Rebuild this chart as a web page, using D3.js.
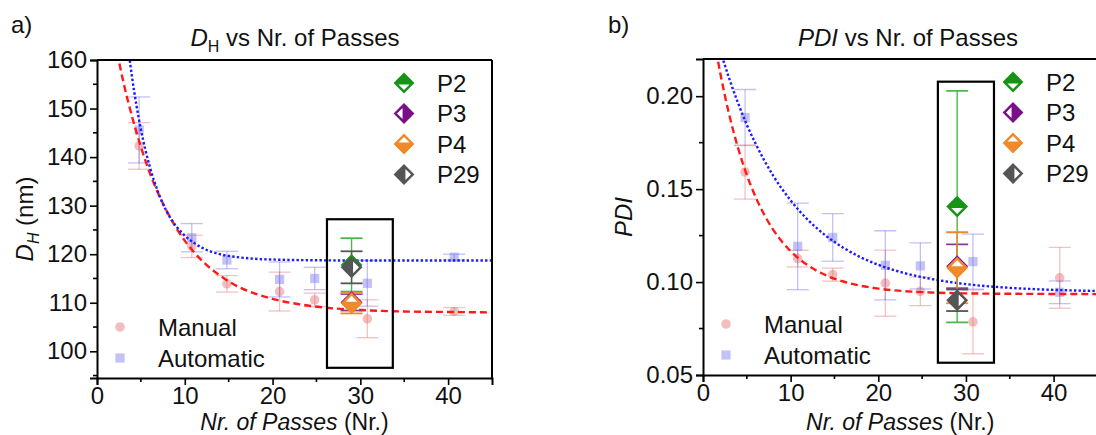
<!DOCTYPE html>
<html><head><meta charset="utf-8">
<script src="https://cdn.jsdelivr.net/npm/d3@7"></script>
<style>
body{margin:0;background:#fff;}
svg{display:block;font-family:"Liberation Sans",Arial,sans-serif;}
</style></head><body>
<svg id="c" width="1096" height="435"></svg>
<script>
// ---------- data ----------
const passes = [4.8, 10.8, 14.8, 20.8, 24.8, 30.8, 40.7];
const dhManual = [142.3, 121.6, 113.9, 112.3, 110.6, 106.7, 108.2];
const dhManualErr = [4.8, 2.3, 1.7, 4.0, 1.4, 3.9, 0.8];
const dhAuto = [145.6, 123.4, 118.8, 114.8, 115.0, 114.0, 119.4];
const dhAutoErr = [6.8, 2.9, 1.8, 3.6, 2.3, 4.7, 0.6];

const pdiManual = [0.1592, 0.1126, 0.1040, 0.0994, 0.0950, 0.0786, 0.1023];
const pdiManualErr = [0.0146, 0.0045, 0.0035, 0.0178, 0.0077, 0.0172, 0.0164];
const pdiAuto = [0.1885, 0.1192, 0.1240, 0.1090, 0.1087, 0.1110, 0.0945];
const pdiAutoErr = [0.0151, 0.0233, 0.0128, 0.0186, 0.0124, 0.0148, 0.0061];

const pLabels = ["P2", "P3", "P4", "P29"];
const pPass = [29, 29, 29, 29];
const dhP = [117.8, 110.1, 109.9, 117.3];
const dhPErr = [5.5, 1.7, 2.1, 3.3];
const pdiP = [0.1406, 0.1085, 0.1077, 0.0902];
const pdiPErr = [0.0623, 0.0118, 0.0191, 0.0058];

// fitted curves
const fitDhManualX = [2.3, 3, 4, 5, 6, 7, 8, 9, 10, 12, 14, 16, 18, 20, 23, 26, 30, 35, 40, 45];
const fitDhManualY = [161.5, 155.5, 148.3, 142.1, 136.8, 132.4, 128.7, 125.5, 122.8, 118.6, 115.6, 113.4, 111.9, 110.8, 109.7, 109.0, 108.5, 108.2, 108.1, 108.0];
const fitDhAutoX = [3.6, 4, 4.5, 5, 5.5, 6, 7, 8, 9, 10, 11, 12, 14, 16, 18, 20, 25, 30, 45];
const fitDhAutoY = [161.8, 156.4, 150.6, 145.7, 141.6, 138.1, 132.6, 128.6, 125.8, 123.8, 122.4, 121.3, 120.0, 119.4, 119.05, 118.9, 118.75, 118.7, 118.7];
const fitPdiManualX = [1.5, 2, 3, 4, 5, 6, 7, 8, 9, 10, 12, 14, 16, 18, 20, 23, 26, 30, 35, 40, 45];
const fitPdiManualY = [0.2244, 0.2117, 0.1899, 0.1721, 0.1576, 0.1458, 0.1361, 0.1282, 0.1218, 0.1166, 0.1089, 0.1037, 0.1003, 0.0980, 0.0965, 0.0951, 0.0944, 0.0939, 0.0937, 0.0936, 0.0935];
const fitPdiAutoX = [2, 3, 4, 5, 6, 7, 8, 10, 12, 14, 16, 18, 20, 23, 26, 30, 35, 40, 45];
const fitPdiAutoY = [0.2240, 0.2094, 0.1963, 0.1846, 0.1745, 0.1654, 0.1573, 0.1439, 0.1333, 0.1250, 0.1185, 0.1133, 0.1093, 0.1048, 0.1017, 0.0989, 0.0969, 0.0958, 0.0952];

const dhTicks = [100, 110, 120, 130, 140, 150, 160];
const dhMinor = [95, 105, 115, 125, 135, 145, 155];
const pdiTicks = [0.05, 0.10, 0.15, 0.20];
const pdiMinor = [0.075, 0.125, 0.175];
const xTicks = [0, 10, 20, 30, 40];
const xMinor = [5, 15, 25, 35];

// ---------- style ----------
const FS = 24;
const manualFill = "rgba(230,110,110,0.45)";
const manualErrCol = "rgba(230,100,100,0.40)";
const autoFill = "rgba(120,120,240,0.45)";
const autoErrCol = "rgba(100,100,240,0.40)";
const pColors = ["#169416", "#7a0f8a", "#f0892a", "#555555"];
const pErrColors = ["#4cb84c", "#8a3a9a", "#f0892a", "#555555"];
const pWhite = ["bottom", "left", "top", "right"];
const drawOrder = [1, 0, 2, 3];

const svg = d3.select("#c");

function halfDiamond(g, cx, cy, s, color, white) {
  const path = p => "M" + p.map(q => q.join(",")).join("L") + "Z";
  const P = {t:[cx,cy-s], r:[cx+s,cy], b:[cx,cy+s], l:[cx-s,cy]};
  g.append("path").attr("d", path([P.t, P.r, P.b, P.l])).attr("fill", color)
    .attr("stroke", color).attr("stroke-width", 2).attr("stroke-linejoin", "miter");
  const k = s * 0.62, off = s * 0.16;
  let tri;
  if (white === "bottom") tri = [[cx - k, cy + off], [cx + k, cy + off], [cx, cy + off + k]];
  if (white === "top") tri = [[cx - k, cy - off], [cx + k, cy - off], [cx, cy - off - k]];
  if (white === "left") tri = [[cx - off, cy - k], [cx - off, cy + k], [cx - off - k, cy]];
  if (white === "right") tri = [[cx + off, cy - k], [cx + off, cy + k], [cx + off + k, cy]];
  g.append("path").attr("d", path(tri)).attr("fill", "#fff");
}

function panel(cfg) {
  const x = d3.scaleLinear().domain([0, 45]).range([cfg.x0, cfg.x1]);
  const y = d3.scaleLinear().domain(cfg.yDomain).range([cfg.yb, cfg.yt]);
  const g = svg.append("g");
  const clipId = "clip" + cfg.id;
  svg.append("defs").append("clipPath").attr("id", clipId)
    .append("rect").attr("x", cfg.x0).attr("y", cfg.yt).attr("width", cfg.x1 - cfg.x0).attr("height", cfg.yb - cfg.yt);
  const plot = g.append("g").attr("clip-path", `url(#${clipId})`);

  function series(vals, errs, errCol, fill, shape) {
    vals.forEach((v, i) => {
      const cx = x(passes[i]);
      const lo = y(v - errs[i]), hi = y(v + errs[i]);
      plot.append("line").attr("x1", cx).attr("x2", cx).attr("y1", lo).attr("y2", hi).attr("stroke", errCol).attr("stroke-width", 1.3);
      [lo, hi].forEach(yy => plot.append("line").attr("x1", cx - 11).attr("x2", cx + 11).attr("y1", yy).attr("y2", yy).attr("stroke", errCol).attr("stroke-width", 1.3));
    });
    vals.forEach((v, i) => {
      const cx = x(passes[i]), cy = y(v);
      if (shape === "circle") plot.append("circle").attr("cx", cx).attr("cy", cy).attr("r", 4.8).attr("fill", fill);
      else plot.append("rect").attr("x", cx - 4.6).attr("y", cy - 4.6).attr("width", 9.2).attr("height", 9.2).attr("fill", fill);
    });
  }
  series(cfg.manual, cfg.manualErr, manualErrCol, manualFill, "circle");
  series(cfg.auto, cfg.autoErr, autoErrCol, autoFill, "square");

  const line = d3.line().x(d => x(d[0])).y(d => y(d[1])).curve(d3.curveMonotoneX);
  plot.append("path").datum(cfg.fitMX.map((v, i) => [v, cfg.fitMY[i]])).attr("d", line)
    .attr("fill", "none").attr("stroke", "#ff1a1a").attr("stroke-width", 2.4).attr("stroke-dasharray", "7,4");
  plot.append("path").datum(cfg.fitAX.map((v, i) => [v, cfg.fitAY[i]])).attr("d", line)
    .attr("fill", "none").attr("stroke", "#1a1aff").attr("stroke-width", 2.4).attr("stroke-dasharray", "2.4,2.2");

  drawOrder.forEach(i => {
    const cx = x(pPass[i]);
    const lo = y(cfg.pVals[i] - cfg.pErr[i]), hi = y(cfg.pVals[i] + cfg.pErr[i]);
    plot.append("line").attr("x1", cx).attr("x2", cx).attr("y1", lo).attr("y2", hi).attr("stroke", pErrColors[i]).attr("stroke-width", 1.4);
    [lo, hi].forEach(yy => plot.append("line").attr("x1", cx - 11).attr("x2", cx + 11).attr("y1", yy).attr("y2", yy).attr("stroke", pErrColors[i]).attr("stroke-width", 1.8));
  });
  drawOrder.forEach(i => {
    halfDiamond(plot, x(pPass[i]), y(cfg.pVals[i]), 9.5, pColors[i], pWhite[i]);
  });

  g.append("rect").attr("x", x(cfg.box[0])).attr("y", y(cfg.box[3]))
    .attr("width", x(cfg.box[1]) - x(cfg.box[0])).attr("height", y(cfg.box[2]) - y(cfg.box[3]))
    .attr("fill", "none").attr("stroke", "#000").attr("stroke-width", 2.2);

  g.append("line").attr("x1", cfg.x0).attr("x2", cfg.x1).attr("y1", cfg.yt).attr("y2", cfg.yt).attr("stroke", "#000").attr("stroke-width", 2);
  g.append("line").attr("x1", cfg.x1).attr("x2", cfg.x1).attr("y1", cfg.yt).attr("y2", cfg.yb).attr("stroke", "#000").attr("stroke-width", 2);

  const ax = g.append("g").attr("transform", `translate(0,${cfg.yb})`)
    .call(d3.axisBottom(x).tickValues(xTicks).tickSize(7).tickPadding(2).tickFormat(d3.format("d")));
  xMinor.forEach(v => ax.append("line").attr("x1", x(v)).attr("x2", x(v)).attr("y1", 0).attr("y2", 4).attr("stroke", "#000").attr("stroke-width", 1.6));
  const ay = g.append("g").attr("transform", `translate(${cfg.x0},0)`)
    .call(d3.axisLeft(y).tickValues(cfg.yTicks).tickSize(7).tickPadding(3).tickFormat(cfg.yFmt));
  cfg.yMinor.forEach(v => ay.append("line").attr("x1", 0).attr("x2", -4).attr("y1", y(v)).attr("y2", y(v)).attr("stroke", "#000").attr("stroke-width", 1.6));
  [ax, ay].forEach(a => {
    a.select(".domain").attr("stroke-width", 2).attr("stroke", "#000");
    a.selectAll(".tick line").attr("stroke-width", 1.6).attr("stroke", "#000");
    a.selectAll("text").attr("font-size", FS).attr("fill", "#111").attr("font-family", "Liberation Sans, Arial, sans-serif");
  });

  const xt = g.append("text").attr("x", (cfg.x0 + cfg.x1) / 2).attr("y", 430).attr("text-anchor", "middle").attr("font-size", 23).attr("fill", "#111");
  xt.append("tspan").attr("font-style", "italic").text("Nr. of Passes");
  xt.append("tspan").text(" (Nr.)");

  pLabels.forEach((lab, i) => {
    const ly = cfg.legY + i * 30.5;
    halfDiamond(g, cfg.legX, ly, 9, pColors[i], pWhite[i]);
    g.append("text").attr("x", cfg.legX + 33).attr("y", ly + 8.5).attr("font-size", FS).attr("fill", "#111").text(lab);
  });
  const mlx = cfg.x0 + 23, mtx = cfg.x0 + 61;
  g.append("circle").attr("cx", mlx).attr("cy", cfg.manY).attr("r", 4.8).attr("fill", manualFill);
  g.append("text").attr("x", mtx).attr("y", cfg.manY + 9).attr("font-size", FS).attr("fill", "#111").text("Manual");
  g.append("rect").attr("x", mlx - 4.6).attr("y", cfg.manY + 31 - 4.6).attr("width", 9.2).attr("height", 9.2).attr("fill", autoFill);
  g.append("text").attr("x", mtx).attr("y", cfg.manY + 31 + 9).attr("font-size", FS).attr("fill", "#111").text("Automatic");
  return {x, y, g};
}

panel({
  id: "a", x0: 97, x1: 492, yt: 60, yb: 378, yDomain: [94.5, 160],
  yTicks: dhTicks, yMinor: dhMinor, yFmt: d3.format("d"),
  manual: dhManual, manualErr: dhManualErr, auto: dhAuto, autoErr: dhAutoErr,
  fitMX: fitDhManualX, fitMY: fitDhManualY, fitAX: fitDhAutoX, fitAY: fitDhAutoY,
  pVals: dhP, pErr: dhPErr, box: [26.2, 33.7, 96.6, 127.2],
  legX: 404, legY: 83, manY: 327
});
panel({
  id: "b", x0: 703, x1: 1097.4, yt: 59, yb: 375, yDomain: [0.05, 0.22],
  yTicks: pdiTicks, yMinor: pdiMinor, yFmt: d3.format(".2f"),
  manual: pdiManual, manualErr: pdiManualErr, auto: pdiAuto, autoErr: pdiAutoErr,
  fitMX: fitPdiManualX, fitMY: fitPdiManualY, fitAX: fitPdiAutoX, fitAY: fitPdiAutoY,
  pVals: pdiP, pErr: pdiPErr, box: [26.8, 33.2, 0.0566, 0.2078],
  legX: 1013, legY: 82, manY: 324
});

const t1 = svg.append("text").attr("x", 295).attr("y", 46).attr("text-anchor", "middle").attr("font-size", FS).attr("fill", "#111");
t1.append("tspan").attr("font-style", "italic").text("D");
t1.append("tspan").attr("font-size", 16).attr("dy", 6).text("H");
t1.append("tspan").attr("dy", -6).text(" vs Nr. of Passes");
const t2 = svg.append("text").attr("x", 908).attr("y", 46).attr("text-anchor", "middle").attr("font-size", FS).attr("fill", "#111");
t2.append("tspan").attr("font-style", "italic").text("PDI");
t2.append("tspan").text(" vs Nr. of Passes");

const y1 = svg.append("text").attr("transform", "translate(33,219) rotate(-90)").attr("text-anchor", "middle").attr("font-size", FS).attr("fill", "#111");
y1.append("tspan").attr("font-style", "italic").text("D");
y1.append("tspan").attr("font-style", "italic").attr("font-size", 16).attr("dy", 6).text("H");
y1.append("tspan").attr("dy", -6).text(" (nm)");
svg.append("text").attr("transform", "translate(632,217) rotate(-90)").attr("text-anchor", "middle").attr("font-size", FS).attr("font-style", "italic").attr("fill", "#111").text("PDI");

svg.append("text").attr("x", 11).attr("y", 33).attr("font-size", FS).attr("fill", "#111").text("a)");
svg.append("text").attr("x", 608).attr("y", 33).attr("font-size", FS).attr("fill", "#111").text("b)");
</script>
</body></html>
